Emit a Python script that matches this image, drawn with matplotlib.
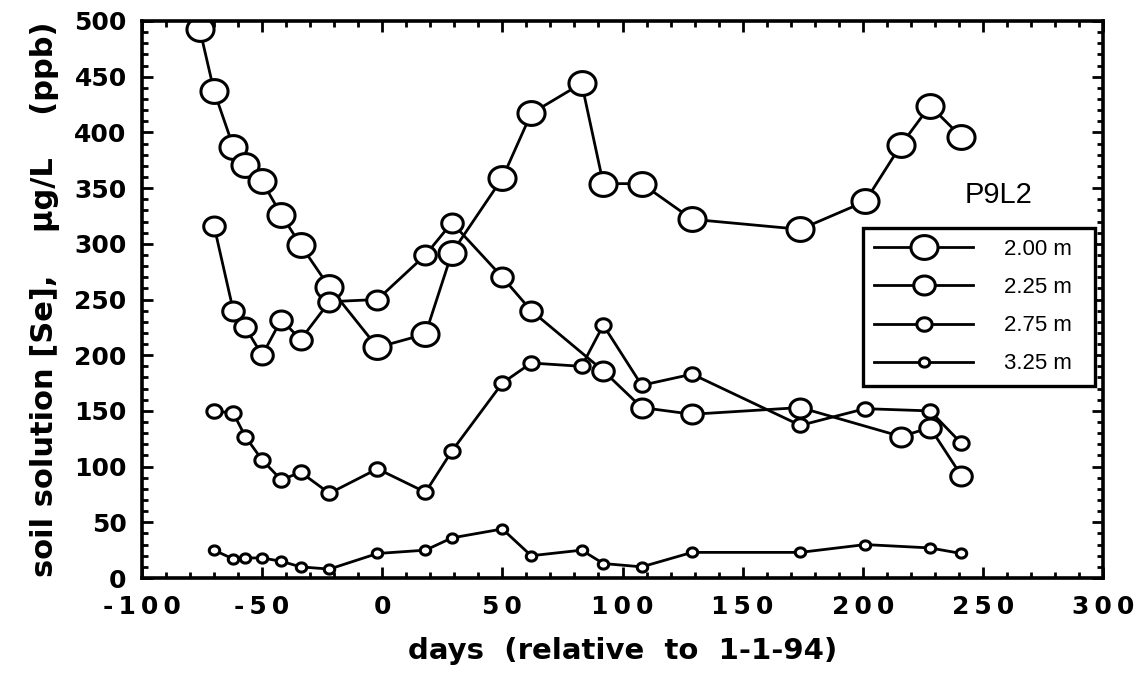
import numpy as np
import matplotlib
matplotlib.use("Agg")
import matplotlib.pyplot as plt
from matplotlib.path import Path
from matplotlib.ticker import MultipleLocator, FixedLocator, FixedFormatter

# sampling days (relative to 1-1-94) and Se concentration (ug/L) per depth
days_200 = [-76, -70, -62, -57, -50, -42, -34, -22, -2, 18, 29, 50, 62, 83, 92, 108, 129, 174, 201, 216, 228, 241]
se_200 = [493, 437, 387, 371, 356, 326, 299, 261, 207, 219, 292, 359, 417, 444, 354, 354, 322, 313, 338, 389, 424, 396]

days_225 = [-70, -62, -57, -50, -42, -34, -22, -2, 18, 29, 50, 62, 92, 108, 129, 174, 216, 228, 241]
se_225 = [316, 240, 225, 200, 232, 214, 248, 250, 290, 319, 270, 240, 186, 153, 147, 153, 127, 135, 92]

days_275 = [-70, -62, -57, -50, -42, -34, -22, -2, 18, 29, 50, 62, 83, 92, 108, 129, 174, 201, 228, 241]
se_275 = [150, 148, 127, 106, 88, 95, 76, 98, 77, 114, 175, 193, 190, 227, 173, 183, 137, 152, 150, 121]

days_325 = [-70, -62, -57, -50, -42, -34, -22, -2, 18, 29, 50, 62, 83, 92, 108, 129, 174, 201, 228, 241]
se_325 = [25, 17, 18, 18, 15, 10, 8, 22, 25, 36, 44, 20, 25, 13, 10, 23, 23, 30, 27, 22]

labels = ["2.00 m", "2.25 m", "2.75 m", "3.25 m"]
xticks = [-100, -50, 0, 50, 100, 150, 200, 250, 300]
yticks = [0, 50, 100, 150, 200, 250, 300, 350, 400, 450, 500]

# slightly flattened circle, like the scanned markers
t = np.linspace(0, 2 * np.pi, 60)
ell = Path(np.column_stack([np.cos(t), 0.88 * np.sin(t)]), closed=True)

fig = plt.figure(figsize=(11.36, 6.73), dpi=100)
ax = fig.add_axes([142 / 1136, 1 - 578 / 673, (1103 - 142) / 1136, (578 - 21) / 673])

series = [(days_200, se_200, 19.5), (days_225, se_225, 15.5),
          (days_275, se_275, 11), (days_325, se_325, 7.5)]
handles = []
for (d, v, ms), lab in zip(series, labels):
    h, = ax.plot(d, v, color="black", lw=2.0, marker=ell, ms=ms,
                 mfc="white", mec="black", mew=2.2, label=lab)
    handles.append(h)

ax.set_xlim(-100, 300)
ax.set_ylim(0, 500)
ax.xaxis.set_major_locator(FixedLocator(xticks))
ax.xaxis.set_major_formatter(FixedFormatter(["\u2009".join(str(x)) for x in xticks]))
ax.xaxis.set_minor_locator(MultipleLocator(10))
ax.yaxis.set_major_locator(FixedLocator(yticks))
ax.yaxis.set_minor_locator(MultipleLocator(10))
ax.tick_params(which="both", direction="in", top=True, right=True, width=2, color="black")
ax.tick_params(which="major", length=8)
ax.tick_params(which="minor", length=4)
ax.tick_params(axis="x", which="major", pad=12, labelsize=18)
ax.tick_params(axis="y", which="major", pad=11, labelsize=18)
for lbl in ax.get_xticklabels() + ax.get_yticklabels():
    lbl.set_fontweight("bold")
for s in ax.spines.values():
    s.set_linewidth(2.6)

ax.set_xlabel("days  (relative  to  1-1-94)", fontsize=21, fontweight="bold", labelpad=13)
ax.set_ylabel("soil solution [Se],    \u03bcg/L    (ppb)", fontsize=22, fontweight="bold", labelpad=10)

fig.text(965 / 1136, 1 - 195 / 673, "P9L2", fontsize=21, ha="left", va="center",
         family=["Liberation Sans", "DejaVu Sans"])

leg = ax.legend(handles=handles, labels=[l + "  " for l in labels], loc="upper left",
                bbox_to_anchor=(863 / 1136, 1 - 228 / 673), bbox_transform=fig.transFigure,
                borderaxespad=0, frameon=True, fancybox=False, edgecolor="black", framealpha=1,
                handlelength=4.45, handletextpad=1.4, labelspacing=0.77, borderpad=0.5,
                prop={"family": ["Liberation Sans", "DejaVu Sans"], "size": 16})
leg.get_frame().set_linewidth(2.4)

fig.savefig("out.png", dpi=100)
